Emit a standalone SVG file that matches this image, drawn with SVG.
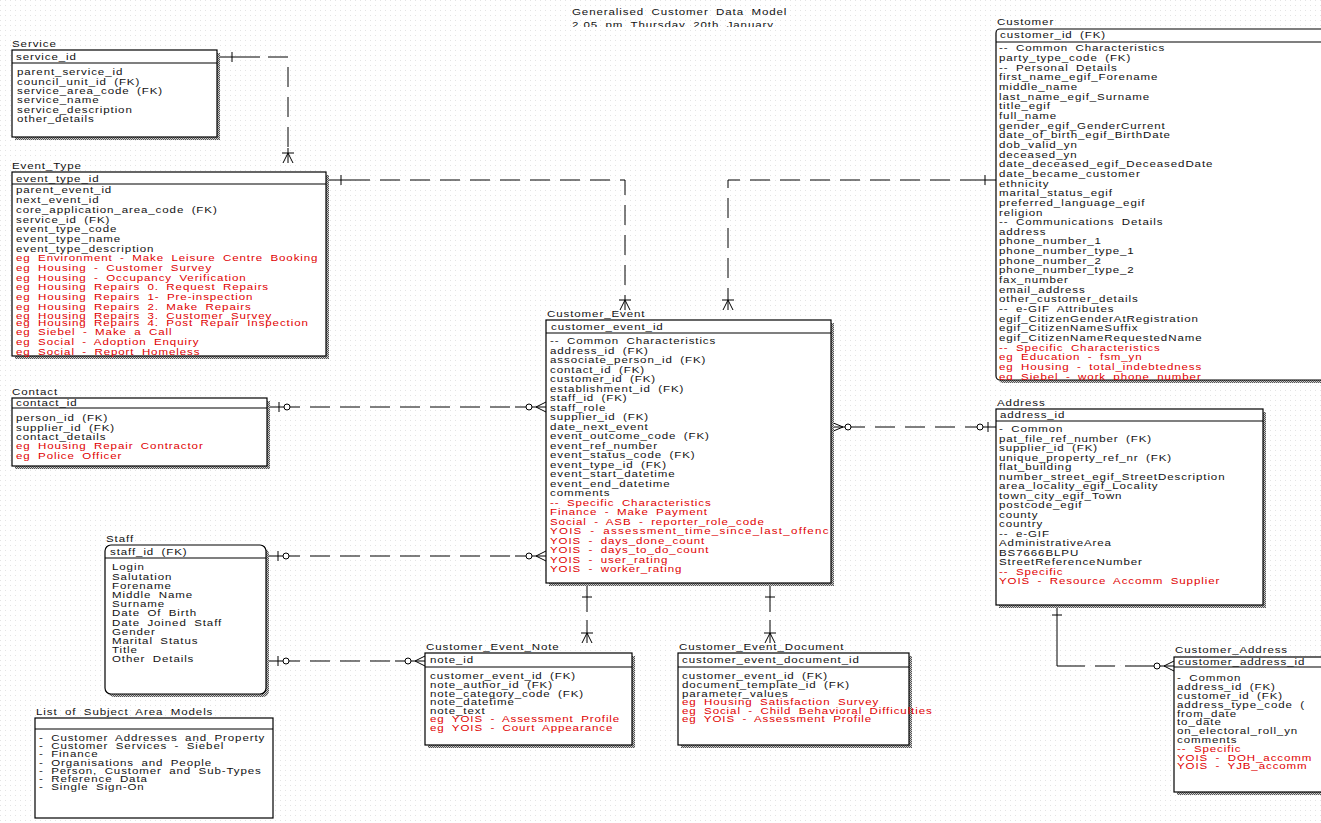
<svg xmlns="http://www.w3.org/2000/svg" width="1321" height="823" viewBox="0 0 1321 823">
<defs>
<style>
.t{font-family:"Liberation Sans",Arial,sans-serif;font-size:8.3px;letter-spacing:0.65px;word-spacing:2.4px;fill:#111}
.r{fill:#e00000}
.box{fill:#fff;stroke:#000;stroke-width:1.2}
.hl{stroke:#000;stroke-width:1.2}
.sh{fill:url(#chk)}
.c{stroke:#000;stroke-width:1;fill:none}
.d{stroke-dasharray:20 10}
.o{fill:#fff;stroke:#000;stroke-width:1}
</style>
<pattern id="chk" width="2" height="2" patternUnits="userSpaceOnUse"><rect width="1" height="1" fill="#555"/><rect x="1" y="1" width="1" height="1" fill="#555"/><rect x="1" width="1" height="1" fill="#ccc"/><rect y="1" width="1" height="1" fill="#ccc"/></pattern>
<pattern id="grid" width="5" height="5" patternUnits="userSpaceOnUse"><rect width="1" height="1" fill="#e4e4e4"/></pattern>
<clipPath id="titleclip"><rect x="-10" y="0" width="400" height="26"/></clipPath>
<clipPath id="custclip"><rect x="996" y="29" width="330" height="351"/></clipPath>
<clipPath id="ceclip"><rect x="546" y="320" width="285" height="263"/></clipPath>
</defs>
<rect width="1321" height="823" fill="#fff"/>
<rect width="1321" height="823" fill="url(#grid)"/>

<g id="title" transform="translate(572,1) scale(1.39,1)">
<text class="t" x="0" y="14">Generalised Customer Data Model</text>
<text class="t" x="0" y="27" clip-path="url(#titleclip)">2.05 pm Thursday 20th  January</text>
</g>

<g id="connectors">
<!-- Service -> Event_Type -->
<path class="c" d="M217,57 H260"/>
<path class="c d" d="M268,57 H288 V148"/>
<path class="c" d="M288,148 V163"/>
<path class="c" d="M232,52 V62"/>
<path class="c" d="M282,153 H294 M288,153 L283,163 M288,153 L293,163"/>
<!-- Event_Type -> Customer_Event -->
<path class="c" d="M326,180 H370"/>
<path class="c d" d="M380,180 H625 V296"/>
<path class="c" d="M625,296 V310"/>
<path class="c" d="M341,175 V185"/>
<path class="c" d="M619,300 H631 M625,300 L620,310 M625,300 L630,310"/>
<!-- Customer -> Customer_Event -->
<path class="c" d="M996,180 H960"/>
<path class="c d" d="M950,180 H728 V296"/>
<path class="c" d="M728,296 V310"/>
<path class="c" d="M985,175 V185"/>
<path class="c" d="M722,300 H734 M728,300 L723,310 M728,300 L733,310"/>
<!-- Contact -> Customer_Event -->
<path class="c" d="M267,407 H300"/>
<path class="c d" d="M310,407 H515"/>
<path class="c" d="M515,407 H546"/>
<path class="c" d="M279,402 V412"/>
<circle class="o" cx="287" cy="407" r="3"/>
<circle class="o" cx="529" cy="407" r="3"/>
<path class="c" d="M536,407 L546,402 M536,407 L546,412"/>
<!-- Staff -> Customer_Event -->
<path class="c" d="M266,556 H300"/>
<path class="c d" d="M310,556 H515"/>
<path class="c" d="M515,556 H546"/>
<path class="c" d="M278,551 V561"/>
<circle class="o" cx="286" cy="556" r="3"/>
<circle class="o" cx="529" cy="556" r="3"/>
<path class="c" d="M536,556 L546,551 M536,556 L546,561"/>
<!-- Staff -> Customer_Event_Note -->
<path class="c" d="M266,661 H300"/>
<path class="c d" d="M310,661 H395"/>
<path class="c" d="M395,661 H425"/>
<path class="c" d="M278,656 V666"/>
<circle class="o" cx="286" cy="661" r="3"/>
<circle class="o" cx="408" cy="661" r="3"/>
<path class="c" d="M415,661 L425,656 M415,661 L425,666"/>
<!-- Customer_Event -> Address -->
<path class="c" d="M831,427 H865"/>
<path class="c d" d="M875,427 H965"/>
<path class="c" d="M965,427 H996"/>
<path class="c" d="M843,427 L831,422 M843,427 L831,432"/>
<circle class="o" cx="848" cy="427" r="3"/>
<circle class="o" cx="980" cy="427" r="3"/>
<path class="c" d="M988,422 V432"/>
<!-- Customer_Event -> Note -->
<path class="c" d="M587,583 V612"/>
<path class="c d" d="M587,620 V630"/>
<path class="c" d="M587,630 V643"/>
<path class="c" d="M582,597 H592"/>
<path class="c" d="M581,633 H593 M587,633 L582,643 M587,633 L592,643"/>
<!-- Customer_Event -> Document -->
<path class="c" d="M770,583 V612"/>
<path class="c d" d="M770,620 V630"/>
<path class="c" d="M770,630 V643"/>
<path class="c" d="M765,597 H775"/>
<path class="c" d="M764,633 H776 M770,633 L765,643 M770,633 L775,643"/>
<!-- Address -> Customer_Address -->
<path class="c" d="M1057,605 V666 H1085"/>
<path class="c d" d="M1095,666 H1145"/>
<path class="c" d="M1145,666 H1174"/>
<path class="c" d="M1052,615 H1062"/>
<circle class="o" cx="1157" cy="666" r="3"/>
<path class="c" d="M1164,666 L1174,661 M1164,666 L1174,671"/>
</g>

<g id="service">
<rect class="sh" x="15" y="53" width="205" height="87"/>
<rect class="box" x="12" y="50" width="205" height="87"/>
<line class="hl" x1="12" y1="63" x2="217" y2="63"/>
<g transform="translate(12,0) scale(1.39,1)"><text class="t" x="0" y="47">Service</text></g>
<g transform="translate(16,0) scale(1.39,1)"><text class="t" x="0" y="60">service_id</text></g>
<g transform="translate(17,1) scale(1.39,1)">
<text class="t" x="0" y="74.5">parent_service_id</text>
<text class="t" x="0" y="83.8">council_unit_id (FK)</text>
<text class="t" x="0" y="93.1">service_area_code (FK)</text>
<text class="t" x="0" y="102.4">service_name</text>
<text class="t" x="0" y="111.7">service_description</text>
<text class="t" x="0" y="121">other_details</text>
</g>
</g>

<g id="event_type">
<rect class="sh" x="15" y="175" width="314" height="184"/>
<rect class="box" x="12" y="172" width="314" height="184"/>
<line class="hl" x1="12" y1="184" x2="326" y2="184"/>
<g transform="translate(12,0) scale(1.39,1)"><text class="t" x="0" y="169">Event_Type</text></g>
<g transform="translate(16,0) scale(1.39,1)"><text class="t" x="0" y="182">event_type_id</text></g>
<g transform="translate(16,0.5) scale(1.39,1)">
<text class="t" x="0" y="193">parent_event_id</text>
<text class="t" x="0" y="202.7">next_event_id</text>
<text class="t" x="0" y="212.4">core_application_area_code (FK)</text>
<text class="t" x="0" y="222.1">service_id (FK)</text>
<text class="t" x="0" y="231.8">event_type_code</text>
<text class="t" x="0" y="241.5">event_type_name</text>
<text class="t" x="0" y="251.2">event_type_description</text>
<text class="t r" x="0" y="260.9">eg Environment - Make Leisure Centre Booking</text>
<text class="t r" x="0" y="270.6">eg Housing - Customer Survey</text>
<text class="t r" x="0" y="280.3">eg Housing - Occupancy Verification</text>
<text class="t r" x="0" y="290">eg Housing Repairs 0. Request Repairs</text>
<text class="t r" x="0" y="299.7">eg Housing Repairs 1- Pre-inspection</text>
<text class="t r" x="0" y="309.4">eg Housing Repairs 2. Make Repairs</text>
<text class="t r" x="0" y="318.4">eg Housing Repairs 3. Customer Survey</text>
<text class="t r" x="0" y="325.6">eg Housing Repairs 4. Post Repair Inspection</text>
<text class="t r" x="0" y="334.8">eg Siebel - Make a Call</text>
<text class="t r" x="0" y="344.5">eg Social - Adoption Enquiry</text>
<text class="t r" x="0" y="354.2">eg Social - Report Homeless</text>
</g>
</g>

<g id="contact">
<rect class="sh" x="15" y="401" width="255" height="68"/>
<rect class="box" x="12" y="398" width="255" height="68"/>
<line class="hl" x1="12" y1="408" x2="267" y2="408"/>
<g transform="translate(12,0) scale(1.39,1)"><text class="t" x="0" y="395">Contact</text></g>
<g transform="translate(16,0) scale(1.39,1)"><text class="t" x="0" y="406">contact_id</text></g>
<g transform="translate(16,0.5) scale(1.39,1)">
<text class="t" x="0" y="421">person_id (FK)</text>
<text class="t" x="0" y="430.3">supplier_id (FK)</text>
<text class="t" x="0" y="439.6">contact_details</text>
<text class="t r" x="0" y="448.9">eg Housing Repair Contractor</text>
<text class="t r" x="0" y="458.2">eg Police Officer</text>
</g>
</g>

<g id="staff">
<rect class="sh" x="108" y="548" width="161" height="149" rx="6"/>
<rect class="box" x="105" y="545" width="161" height="149" rx="6"/>
<line class="hl" x1="105" y1="558" x2="266" y2="558"/>
<g transform="translate(106,0) scale(1.39,1)"><text class="t" x="0" y="542">Staff</text></g>
<g transform="translate(110,0) scale(1.39,1)"><text class="t" x="0" y="555">staff_id (FK)</text></g>
<g transform="translate(112,0.5) scale(1.39,1)">
<text class="t" x="0" y="570">Login</text>
<text class="t" x="0" y="579.2">Salutation</text>
<text class="t" x="0" y="588.4">Forename</text>
<text class="t" x="0" y="597.6">Middle Name</text>
<text class="t" x="0" y="606.8">Surname</text>
<text class="t" x="0" y="616">Date Of Birth</text>
<text class="t" x="0" y="625.2">Date Joined Staff</text>
<text class="t" x="0" y="634.4">Gender</text>
<text class="t" x="0" y="643.6">Marital Status</text>
<text class="t" x="0" y="652.8">Title</text>
<text class="t" x="0" y="662">Other Details</text>
</g>
</g>

<g id="subject_areas">
<rect class="box" x="35" y="718" width="238" height="100"/>
<line class="hl" x1="35" y1="729" x2="273" y2="729"/>
<g transform="translate(36,0) scale(1.39,1)"><text class="t" x="0" y="715">List of Subject Area Models</text></g>
<g transform="translate(39,0) scale(1.39,1)">
<text class="t" x="0" y="741">- Customer Addresses and Property</text>
<text class="t" x="0" y="749.2">- Customer Services - Siebel</text>
<text class="t" x="0" y="757.4">- Finance</text>
<text class="t" x="0" y="765.6">- Organisations and People</text>
<text class="t" x="0" y="773.8">- Person, Customer and Sub-Types</text>
<text class="t" x="0" y="782">- Reference Data</text>
<text class="t" x="0" y="790.2">- Single Sign-On</text>
</g>
</g>

<g id="customer_event">
<rect class="sh" x="549" y="323" width="285" height="263"/>
<rect class="box" x="546" y="320" width="285" height="263"/>
<line class="hl" x1="546" y1="333" x2="831" y2="333"/>
<g transform="translate(547,0) scale(1.39,1)"><text class="t" x="0" y="317">Customer_Event</text></g>
<g transform="translate(551,0) scale(1.39,1)"><text class="t" x="0" y="330">customer_event_id</text></g>
<g clip-path="url(#ceclip)">
<g transform="translate(550,0.5) scale(1.39,1)">
<text class="t" x="0" y="344">-- Common Characteristics</text>
<text class="t" x="0" y="353.5">address_id (FK)</text>
<text class="t" x="0" y="363">associate_person_id (FK)</text>
<text class="t" x="0" y="372.5">contact_id (FK)</text>
<text class="t" x="0" y="382">customer_id (FK)</text>
<text class="t" x="0" y="391.5">establishment_id (FK)</text>
<text class="t" x="0" y="401">staff_id (FK)</text>
<text class="t" x="0" y="410.5">staff_role</text>
<text class="t" x="0" y="420">supplier_id (FK)</text>
<text class="t" x="0" y="429.5">date_next_event</text>
<text class="t" x="0" y="439">event_outcome_code (FK)</text>
<text class="t" x="0" y="448.5">event_ref_number</text>
<text class="t" x="0" y="458">event_status_code (FK)</text>
<text class="t" x="0" y="467.5">event_type_id (FK)</text>
<text class="t" x="0" y="477">event_start_datetime</text>
<text class="t" x="0" y="486.5">event_end_datetime</text>
<text class="t" x="0" y="496">comments</text>
<text class="t r" x="0" y="505.5">-- Specific Characteristics</text>
<text class="t r" x="0" y="515">Finance - Make Payment</text>
<text class="t r" x="0" y="524.5">Social - ASB - reporter_role_code</text>
<text class="t r" x="0" y="534" textLength="201" lengthAdjust="spacing">YOIS - assessment_time_since_last_offenc</text>
<text class="t r" x="0" y="543.5">YOIS - days_done_count</text>
<text class="t r" x="0" y="553">YOIS - days_to_do_count</text>
<text class="t r" x="0" y="562.5">YOIS - user_rating</text>
<text class="t r" x="0" y="572">YOIS - worker_rating</text>
</g>
</g>
</g>

<g id="customer_event_note">
<rect class="sh" x="428" y="656" width="207" height="92"/>
<rect class="box" x="425" y="653" width="207" height="92"/>
<line class="hl" x1="425" y1="667" x2="632" y2="667"/>
<g transform="translate(426,0) scale(1.39,1)"><text class="t" x="0" y="650">Customer_Event_Note</text></g>
<g transform="translate(430,0) scale(1.39,1)"><text class="t" x="0" y="663">note_id</text></g>
<g transform="translate(430,0) scale(1.39,1)">
<text class="t" x="0" y="679.5">customer_event_id (FK)</text>
<text class="t" x="0" y="688.1">note_author_id (FK)</text>
<text class="t" x="0" y="696.7">note_category_code (FK)</text>
<text class="t" x="0" y="705.3">note_datetime</text>
<text class="t" x="0" y="713.9">note_text</text>
<text class="t r" x="0" y="722.5">eg YOIS - Assessment Profile</text>
<text class="t r" x="0" y="731.1">eg YOIS - Court Appearance</text>
</g>
</g>

<g id="customer_event_document">
<rect class="sh" x="681" y="656" width="231" height="92"/>
<rect class="box" x="678" y="653" width="231" height="92"/>
<line class="hl" x1="678" y1="667" x2="909" y2="667"/>
<g transform="translate(679,0) scale(1.39,1)"><text class="t" x="0" y="650">Customer_Event_Document</text></g>
<g transform="translate(682,0) scale(1.39,1)"><text class="t" x="0" y="663">customer_event_document_id</text></g>
<g transform="translate(682,0) scale(1.39,1)">
<text class="t" x="0" y="679.5">customer_event_id (FK)</text>
<text class="t" x="0" y="688.1">document_template_id (FK)</text>
<text class="t" x="0" y="696.7">parameter_values</text>
<text class="t r" x="0" y="705.3">eg Housing Satisfaction Survey</text>
<text class="t r" x="0" y="713.9">eg Social - Child Behavioral Difficulties</text>
<text class="t r" x="0" y="722.5">eg YOIS - Assessment Profile</text>
</g>
</g>

<g id="customer">
<rect class="sh" x="999" y="32" width="330" height="351" rx="4"/>
<rect class="box" x="996" y="29" width="330" height="351" rx="4"/>
<line class="hl" x1="996" y1="42" x2="1326" y2="42"/>
<g transform="translate(997,0) scale(1.39,1)"><text class="t" x="0" y="25">Customer</text></g>
<g transform="translate(1000,0) scale(1.39,1)"><text class="t" x="0" y="38.5">customer_id (FK)</text></g>
<g clip-path="url(#custclip)">
<g transform="translate(999,0.5) scale(1.39,1)">
<text class="t" x="0" y="51">-- Common Characteristics</text>
<text class="t" x="0" y="60.7">party_type_code (FK)</text>
<text class="t" x="0" y="70.3">-- Personal Details</text>
<text class="t" x="0" y="80">first_name_egif_Forename</text>
<text class="t" x="0" y="89.6">middle_name</text>
<text class="t" x="0" y="99.3">last_name_egif_Surname</text>
<text class="t" x="0" y="108.9">title_egif</text>
<text class="t" x="0" y="118.6">full_name</text>
<text class="t" x="0" y="128.2">gender_egif_GenderCurrent</text>
<text class="t" x="0" y="137.9">date_of_birth_egif_BirthDate</text>
<text class="t" x="0" y="147.5">dob_valid_yn</text>
<text class="t" x="0" y="157.2">deceased_yn</text>
<text class="t" x="0" y="166.8">date_deceased_egif_DeceasedDate</text>
<text class="t" x="0" y="176.5">date_became_customer</text>
<text class="t" x="0" y="186.1">ethnicity</text>
<text class="t" x="0" y="195.8">marital_status_egif</text>
<text class="t" x="0" y="205.4">preferred_language_egif</text>
<text class="t" x="0" y="215.1">religion</text>
<text class="t" x="0" y="224.7">-- Communications Details</text>
<text class="t" x="0" y="234.4">address</text>
<text class="t" x="0" y="244">phone_number_1</text>
<text class="t" x="0" y="253.7">phone_number_type_1</text>
<text class="t" x="0" y="263.3">phone_number_2</text>
<text class="t" x="0" y="273">phone_number_type_2</text>
<text class="t" x="0" y="282.6">fax_number</text>
<text class="t" x="0" y="292.3">email_address</text>
<text class="t" x="0" y="301.9">other_customer_details</text>
<text class="t" x="0" y="311.6">-- e-GIF Attributes</text>
<text class="t" x="0" y="321.2">egif_CitizenGenderAtRegistration</text>
<text class="t" x="0" y="330.9">egif_CitizenNameSuffix</text>
<text class="t" x="0" y="340.5">egif_CitizenNameRequestedName</text>
<text class="t r" x="0" y="350.2">-- Specific Characteristics</text>
<text class="t r" x="0" y="359.8">eg Education - fsm_yn</text>
<text class="t r" x="0" y="369.5">eg Housing - total_indebtedness</text>
<text class="t r" x="0" y="379.1">eg Siebel - work_phone_number</text>
</g>
</g>
</g>

<g id="address">
<rect class="sh" x="999" y="412" width="267" height="196"/>
<rect class="box" x="996" y="409" width="267" height="196"/>
<line class="hl" x1="996" y1="421" x2="1263" y2="421"/>
<g transform="translate(997,0) scale(1.39,1)"><text class="t" x="0" y="406">Address</text></g>
<g transform="translate(1000,0) scale(1.39,1)"><text class="t" x="0" y="418.5">address_id</text></g>
<g transform="translate(999,0.5) scale(1.39,1)">
<text class="t" x="0" y="432">- Common</text>
<text class="t" x="0" y="441.5">pat_file_ref_number (FK)</text>
<text class="t" x="0" y="451">supplier_id (FK)</text>
<text class="t" x="0" y="460.5">unique_property_ref_nr (FK)</text>
<text class="t" x="0" y="470">flat_building</text>
<text class="t" x="0" y="479.5">number_street_egif_StreetDescription</text>
<text class="t" x="0" y="489">area_locality_egif_Locality</text>
<text class="t" x="0" y="498.5">town_city_egif_Town</text>
<text class="t" x="0" y="508">postcode_egif</text>
<text class="t" x="0" y="517.5">county</text>
<text class="t" x="0" y="527">country</text>
<text class="t" x="0" y="536.5">-- e-GIF</text>
<text class="t" x="0" y="546">AdministrativeArea</text>
<text class="t" x="0" y="555.5">BS7666BLPU</text>
<text class="t" x="0" y="565">StreetReferenceNumber</text>
<text class="t r" x="0" y="574.5">-- Specific</text>
<text class="t r" x="0" y="584">YOIS - Resource Accomm Supplier</text>
</g>
</g>

<g id="customer_address">
<rect class="sh" x="1177" y="660" width="200" height="135"/>
<rect class="box" x="1174" y="657" width="200" height="135"/>
<line class="hl" x1="1174" y1="667" x2="1374" y2="667"/>
<g transform="translate(1175,0) scale(1.39,1)"><text class="t" x="0" y="653.5">Customer_Address</text></g>
<g transform="translate(1178,0) scale(1.39,1)"><text class="t" x="0" y="665">customer_address_id</text></g>
<g transform="translate(1177,0.5) scale(1.39,1)">
<text class="t" x="0" y="681">- Common</text>
<text class="t" x="0" y="689.8">address_id (FK)</text>
<text class="t" x="0" y="698.6">customer_id (FK)</text>
<text class="t" x="0" y="707.4">address_type_code (</text>
<text class="t" x="0" y="716.2">from_date</text>
<text class="t" x="0" y="725">to_date</text>
<text class="t" x="0" y="733.8">on_electoral_roll_yn</text>
<text class="t" x="0" y="742.6">comments</text>
<text class="t r" x="0" y="751.4">-- Specific</text>
<text class="t r" x="0" y="760.2">YOIS - DOH_accomm</text>
<text class="t r" x="0" y="769">YOIS - YJB_accomm</text>
</g>
</g>
</svg>
